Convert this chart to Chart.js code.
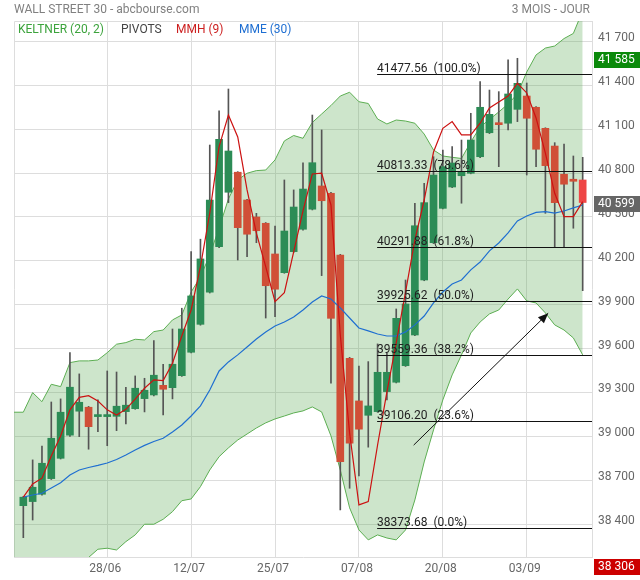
<!DOCTYPE html>
<html>
<head>
<meta charset="utf-8">
<script src="https://cdn.jsdelivr.net/npm/chart.js@4/dist/chart.umd.min.js"></script>
<style>
  body { margin: 0; background: #fff; }
  #wrap { position: relative; width: 640px; height: 580px; }
  #chart { position: absolute; left: 0; top: 0; }
  .t { position: absolute; font: 12px Roboto, sans-serif; line-height: 16px; white-space: pre; }
</style>
</head>
<body>
<div id="wrap">
  <canvas id="chart" width="640" height="580"></canvas>
  <div class="t" style="left:14px;top:1px;color:#808080">WALL STREET 30 - abcbourse.com</div>
  <div class="t" style="right:50px;top:1px;color:#808080">3 MOIS - JOUR</div>
  <div class="t" style="left:18px;top:21px;color:#3ca33c">KELTNER (20, 2)</div>
  <div class="t" style="left:121px;top:21px;color:#444">PIVOTS</div>
  <div class="t" style="left:176px;top:21px;color:#cc1f1f">MMH (9)</div>
  <div class="t" style="left:239px;top:21px;color:#1e6ed2">MME (30)</div>
</div>
<script>
// séances (index 0..60)
const dates = ['14/06','17/06','18/06','20/06','21/06','24/06','25/06','26/06','27/06','28/06',
  '01/07','02/07','03/07','05/07','08/07','09/07','10/07','11/07','12/07',
  '15/07','16/07','17/07','18/07','19/07','22/07','23/07','24/07','25/07',
  '26/07','29/07','30/07','31/07','01/08','02/08','05/08','06/08','07/08',
  '08/08','09/08','12/08','13/08','14/08','15/08','16/08','19/08','20/08',
  '21/08','22/08','23/08','26/08','27/08','28/08','29/08','30/08','03/09',
  '04/09','05/09','06/09','09/09','10/09','11/09'];
const xTickDates = ['28/06','12/07','25/07','07/08','20/08','03/09'];
const yTicks = [38400, 38700, 39000, 39300, 39600, 39900, 40200, 40500, 40800, 41100, 41400, 41700];

const opens = [38526, 38554, 38604, 38711, 38850, 39008, 39172, 39199, 39135, 39135,
  39137, 39169, 39189, 39258, 39283, 39349, 39333, 39415, 39575, 39766,
  39985, 40297, 40669, 40806, 40616, 40500, 40457, 40247, 40119, 40263,
  40416, 40553, 40712, 40662, 40240, 39534, 39242, 39144, 39169, 39306,
  39370, 39483, 39693, 40069, 40324, 40559, 40705, 40782, 40799, 40912,
  41076, 41141, 41141, 41236, 41327, 41250, 41106, 40985, 40792, 40758, 40753];
const highs = [38590, 38839, 38934, 39235, 39256, 39572, 39427, 39205, 39249, 39447,
  39440, 39336, 39413, 39397, 39654, 39493, 39734, 39876, 40263, 40348,
  40992, 41225, 41375, 40810, 40620, 40525, 40462, 40438, 40753, 40685,
  40871, 41197, 41095, 40668, 40245, 39540, 39481, 39511, 39632, 39570,
  39871, 40069, 40594, 40730, 40912, 40958, 40981, 41026, 41209, 41425,
  41368, 41357, 41575, 41585, 41416, 41255, 41110, 41008, 40999, 40917, 40908];
const lows = [38307, 38428, 38598, 38705, 38845, 39000, 38998, 38912, 39032, 38936,
  39039, 39085, 39185, 39167, 39276, 39146, 39256, 39410, 39570, 39760,
  39980, 40290, 40598, 40206, 40229, 40324, 39809, 39818, 40115, 40258,
  40410, 40548, 40099, 39363, 38497, 38645, 38729, 38926, 39165, 39249,
  39365, 39478, 39688, 40064, 40318, 40555, 40700, 40594, 40795, 40905,
  41070, 40844, 41095, 41152, 40787, 40844, 40525, 40297, 40297, 40423, 39996];
const closes = [38584, 38652, 38816, 38987, 39165, 39336, 39233, 39066, 39140, 39144,
  39206, 39213, 39329, 39315, 39418, 39322, 39493, 39734, 39960, 40213,
  40616, 41031, 40951, 40427, 40382, 40406, 40030, 40006, 40404, 40568,
  40691, 40871, 40611, 39807, 38827, 38953, 39049, 39208, 39438, 39438,
  39807, 39905, 40440, 40598, 40787, 40844, 40869, 40810, 41026, 41250,
  41202, 41131, 41341, 41414, 41175, 40963, 40851, 40598, 40724, 40744, 40599];

// MMH (9) et MME (30)
const mmh = [38584, 38675, 38714, 38866, 39003, 39181, 39267, 39278, 39242, 39181,
  39146, 39185, 39254, 39329, 39386, 39381, 39500, 39686, 39864, 40160,
  40527, 40981, 41197, 41047, 40685, 40389, 40160, 39921, 39982, 40261,
  40541, 40794, 40799, 40582, 39693, 39023, 38531, 38554, 38941, 39304,
  39639, 39987, 40343, 40616, 40944, 41106, 41152, 41061, 41061, 41141,
  41245, 41286, 41327, 41414, 41348, 41177, 40936, 40662, 40502, 40502, 40605];
const mme = [38584, 38599, 38611, 38647, 38683, 38736, 38770, 38787, 38801, 38818,
  38842, 38873, 38907, 38938, 38965, 38987, 39030, 39078, 39139, 39208,
  39317, 39447, 39509, 39557, 39611, 39666, 39714, 39755, 39782, 39816,
  39864, 39919, 39960, 39939, 39878, 39809, 39741, 39721, 39700, 39686,
  39686, 39714, 39762, 39823, 39912, 39987, 40042, 40069, 40138, 40192,
  40268, 40322, 40391, 40473, 40507, 40531, 40536, 40527, 40541, 40562, 40582];

// Keltner (20, 2) : commence une séance avant la première bougie (index -1..60)
const kelUpper = [39165, 39165, 39299, 39237, 39356, 39340, 39504, 39516, 39516, 39522,
  39572, 39630, 39641, 39664, 39659, 39716, 39727, 39796, 39830, 39987,
  40090, 40240, 40425, 40623, 40753, 40799, 40817, 40821, 40890, 41020,
  41057, 41038, 41146, 41204, 41262, 41327, 41353, 41288, 41276, 41170,
  41136, 41163, 41156, 41141, 41067, 40958, 40917, 40908, 40900, 41013,
  41115, 41167, 41218, 41273, 41341, 41491, 41608, 41655, 41669, 41720, 41755, 41910];
const kelLower = [38004, 38004, 37909, 37984, 37936, 37998, 37984, 38073, 38172, 38228,
  38235, 38223, 38280, 38326, 38399, 38399, 38433, 38485, 38560, 38572,
  38656, 38770, 38861, 38921, 38975, 39016, 39057, 39092, 39119, 39139,
  39160, 39174, 39201, 39167, 39003, 38770, 38511, 38360, 38292, 38326,
  38305, 38292, 38360, 38565, 38825, 39044, 39249, 39420, 39557, 39707,
  39782, 39837, 39864, 39939, 40008, 39926, 39912, 39844, 39762, 39727, 39673, 39557];

// retracements de Fibonacci
const fibLevels = [41477.56, 40813.33, 40291.88, 39925.62, 39559.36, 39106.20, 38373.68];
const fibPcts = ['100.0%', '78.6%', '61.8%', '50.0%', '38.2%', '23.6%', '0.0%'];
const fibStart = 37.95;

// flèche (index, cours)
const arrowFrom = [41.87, 38940];
const arrowTo = [56.3, 39842];

// étiquettes de prix sur l'axe
const markValues = [41585, 40599, 38306];
const markColors = ['#0b8a0b', '#666666', '#cc0000'];

const GREEN = '#2c8c56';
const RED = '#d04f37';

function fmt(v) {
  return String(v).replace(/\B(?=(\d{3})+(?!\d))/g, ' ');
}

const overlay = {
  id: 'overlay',
  beforeDatasetsDraw(chart) {
    const { ctx, chartArea: a } = chart;
    ctx.save();
    ctx.strokeStyle = '#ddd';
    ctx.lineWidth = 1;
    ctx.beginPath();
    ctx.moveTo(a.left + 0.5, a.bottom);
    ctx.lineTo(a.left + 0.5, a.top + 0.5);
    ctx.lineTo(a.right, a.top + 0.5);
    ctx.stroke();
    ctx.restore();
  },
  afterDatasetsDraw(chart) {
    const { ctx, chartArea: a, scales: { x, y } } = chart;
    ctx.save();
    ctx.beginPath();
    ctx.rect(a.left, a.top, a.right - a.left, a.bottom - a.top);
    ctx.clip();
    ctx.font = '12px Roboto';
    ctx.lineWidth = 1;
    fibLevels.forEach((lv, k) => {
      const py = Math.round(y.getPixelForValue(lv)) + 0.5;
      const px = x.getPixelForValue(fibStart);
      ctx.strokeStyle = '#111';
      ctx.beginPath();
      ctx.moveTo(px, py);
      ctx.lineTo(a.right, py);
      ctx.stroke();
      ctx.fillStyle = '#222';
      ctx.textBaseline = 'alphabetic';
      ctx.fillText(lv.toFixed(2) + '  (' + fibPcts[k] + ')', px, py - 3);
    });
    // flèche
    const x0 = x.getPixelForValue(arrowFrom[0]), y0 = y.getPixelForValue(arrowFrom[1]);
    const x1 = x.getPixelForValue(arrowTo[0]), y1 = y.getPixelForValue(arrowTo[1]);
    const ang = Math.atan2(y1 - y0, x1 - x0);
    ctx.strokeStyle = '#111';
    ctx.fillStyle = '#111';
    ctx.beginPath();
    ctx.moveTo(x0, y0);
    ctx.lineTo(x1, y1);
    ctx.stroke();
    ctx.beginPath();
    ctx.moveTo(x1, y1);
    ctx.lineTo(x1 - 11 * Math.cos(ang - 0.4), y1 - 11 * Math.sin(ang - 0.4));
    ctx.lineTo(x1 - 11 * Math.cos(ang + 0.4), y1 - 11 * Math.sin(ang + 0.4));
    ctx.closePath();
    ctx.fill();
    ctx.restore();
  },
  afterDraw(chart) {
    const { ctx, chartArea: a, scales: { y } } = chart;
    ctx.save();
    ctx.font = '12px Roboto';
    ctx.textBaseline = 'middle';
    markValues.forEach((v, k) => {
      let py = y.getPixelForValue(v) + 1.5;
      if (v < yTicks[0]) py = a.bottom + 10; // plus bas : sous l'axe
      ctx.fillStyle = markColors[k];
      ctx.fillRect(a.right + 2, Math.round(py - 8), 640 - a.right - 2, 16);
      ctx.fillStyle = '#fff';
      ctx.fillText(fmt(v), a.right + 6, py);
    });
    ctx.restore();
  }
};

Chart.defaults.font.family = 'Roboto';

const ctx = document.getElementById('chart').getContext('2d');
const chart = new Chart(ctx, {
  type: 'bar',
  data: {
    datasets: [{
      type: 'line',
      label: 'Keltner haut',
      data: kelUpper.map((v, i) => ({ x: i - 1, y: v })),
      borderColor: '#5cae52',
      borderWidth: 1,
      pointRadius: 0,
      backgroundColor: 'rgba(88, 168, 82, 0.3)',
      fill: '+1',
      order: 10
    }, {
      type: 'line',
      label: 'Keltner bas',
      data: kelLower.map((v, i) => ({ x: i - 1, y: v })),
      borderColor: '#5cae52',
      borderWidth: 1,
      pointRadius: 0,
      fill: false,
      order: 9
    }, {
      label: 'Mèches',
      data: highs.map((h, i) => ({ x: i, y: [lows[i], h] })),
      backgroundColor: '#555',
      barThickness: 1,
      grouped: false,
      order: 6
    }, {
      label: 'Corps',
      data: opens.map((o, i) => ({ x: i, y: [o, closes[i]] })),
      backgroundColor: c => {
        const i = c.dataIndex;
        if (i === closes.length - 1) return '#ee4646';
        return closes[i] >= opens[i] ? GREEN : RED;
      },
      barThickness: 7,
      minBarLength: 2,
      grouped: false,
      order: 5
    }, {
      type: 'line',
      label: 'MME (30)',
      data: mme.map((v, i) => ({ x: i, y: v })),
      borderColor: '#1f6fd1',
      borderWidth: 1.2,
      pointRadius: 0,
      fill: false,
      order: 3
    }, {
      type: 'line',
      label: 'MMH (9)',
      data: mmh.map((v, i) => ({ x: i, y: v })),
      borderColor: '#cc1111',
      borderWidth: 1.2,
      pointRadius: 0,
      fill: false,
      order: 2
    }]
  },
  options: {
    responsive: false,
    animation: false,
    layout: { padding: { left: 14, top: 21 } },
    plugins: {
      legend: { display: false },
      tooltip: { enabled: false }
    },
    scales: {
      x: {
        type: 'linear',
        min: -1,
        max: 61,
        offset: false,
        grid: { color: '#ddd', drawTicks: false, offset: false },
        border: { color: '#ddd' },
        ticks: {
          color: '#666',
          font: { size: 12 },
          padding: 5,
          labelOffset: -2,
          maxRotation: 0,
          autoSkip: false,
          callback: v => dates[v]
        },
        afterBuildTicks: s => { s.ticks = xTickDates.map(d => ({ value: dates.indexOf(d) })); },
        afterFit: s => { s.height = 23; }
      },
      y: {
        position: 'right',
        min: 38175,
        max: 41840,
        grid: { color: '#ddd', drawTicks: false },
        border: { color: '#ddd' },
        ticks: {
          color: '#666',
          font: { size: 12 },
          padding: 6,
          labelOffset: -3,
          callback: v => fmt(v)
        },
        afterBuildTicks: s => { s.ticks = yTicks.map(v => ({ value: v })); },
        afterFit: s => { s.width = 48; }
      }
    }
  },
  plugins: [overlay]
});
</script>
</body>
</html>
